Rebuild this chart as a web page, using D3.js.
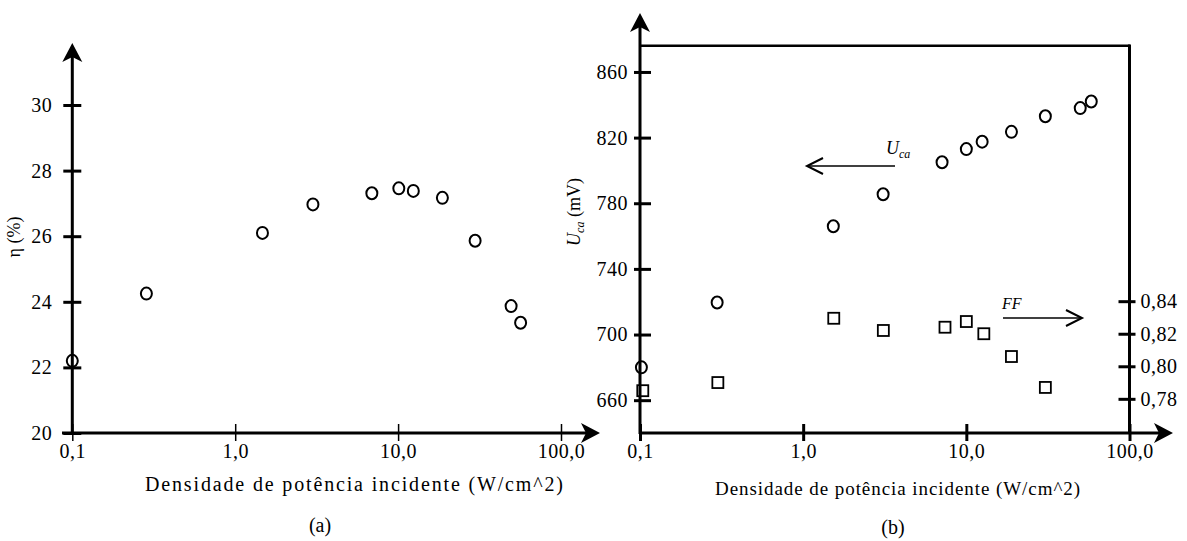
<!DOCTYPE html>
<html>
<head>
<meta charset="utf-8">
<script src="https://cdn.jsdelivr.net/npm/d3@7"></script>
<style>
  body { margin: 0; background: #fff; }
  svg text { font-family: "Liberation Serif", "Times New Roman", Times, serif !important; fill: #000; }
</style>
</head>
<body>
<script>
// ---------------------------//
//          DATA              //
// ---------------------------//

// (a) efficiency vs incident power density
const xEta = [0.1, 0.285, 1.47, 3.0, 6.9, 10.1, 12.4, 18.7, 29.7, 49.4, 56.5];
const eta  = [22.2, 24.25, 26.1, 26.97, 27.31, 27.46, 27.38, 27.17, 25.86, 23.87, 23.36];

// (b) open circuit voltage (mV) and fill factor
const xUca = [0.102, 0.297, 1.53, 3.09, 7.1, 10, 12.5, 18.9, 30.5, 49.9, 58.3];
const uca  = [680, 719.5, 766, 785.5, 805, 813, 817.5, 823.5, 833, 838, 842];
const xFF  = [0.104, 0.3, 1.54, 3.1, 7.4, 10, 12.8, 18.9, 30.5];
const ff   = [0.785, 0.79, 0.8295, 0.822, 0.824, 0.8275, 0.82, 0.806, 0.787];

// tick values
const xTicks   = [0.1, 1, 10, 100];
const etaTicks = [20, 22, 24, 26, 28, 30];
const ucaTicks = [660, 700, 740, 780, 820, 860];
const ffTicks  = [0.78, 0.80, 0.82, 0.84];

const xTitle = "Densidade de potência incidente (W/cm^2)";

// ---------------------------//
//       SET  CANVAS          //
// ---------------------------//

const W = 1187, H = 541;
const svg = d3.select("body").append("svg")
    .attr("width", W)
    .attr("height", H)
    .style("font-family", "'Liberation Serif', 'Times New Roman', serif");

const fmtX = d => d3.format(".1f")(d).replace(".", ",");
const fmtFF = d => d3.format(".2f")(d).replace(".", ",");

// filled arrow heads for the axes
function arrowUp(x, y) {
    svg.append("path")
        .attr("d", `M${x},${y} L${x - 10},${y + 19} L${x},${y + 14} L${x + 10},${y + 19} Z`)
        .attr("fill", "#000");
}
function arrowRight(x, y) {
    svg.append("path")
        .attr("d", `M${x},${y} L${x - 19},${y - 10} L${x - 14},${y} L${x - 19},${y + 10} Z`)
        .attr("fill", "#000");
}
// thin open arrows for the annotations
function thinArrow(x1, x2, y) {
    const dir = x2 > x1 ? 1 : -1;
    svg.append("line")
        .attr("x1", x1).attr("x2", x2).attr("y1", y).attr("y2", y)
        .attr("stroke", "#000").attr("stroke-width", 1.5);
    svg.append("path")
        .attr("d", `M${x2 - dir * 16},${y - 8} L${x2},${y} L${x2 - dir * 16},${y + 8}`)
        .attr("fill", "none").attr("stroke", "#000").attr("stroke-width", 2);
}

function styleTicks(g, x1, x2, sw) {
    g.attr("font-family", null);
    g.select(".domain").remove();
    g.selectAll(".tick line").attr("x1", x1).attr("x2", x2)
        .attr("stroke", "#000").attr("stroke-width", sw);
    g.selectAll("text")
        .style("font-size", "20px")
        .style("letter-spacing", "0.5px");
}

// ---------------------------//
//       CHART (a)            //
// ---------------------------//

const xa = d3.scaleLog().domain([0.1, 100]).range([72.3, 561]);
const ya = d3.scaleLinear().domain([20, 30]).range([433, 105]);

// axes lines
svg.append("line").attr("x1", 72.3).attr("x2", 72.3).attr("y1", 434).attr("y2", 50)
    .attr("stroke", "#000").attr("stroke-width", 3);
arrowUp(72.3, 43);
svg.append("line").attr("x1", 62).attr("x2", 592).attr("y1", 433).attr("y2", 433)
    .attr("stroke", "#000").attr("stroke-width", 3);
arrowRight(600, 433);

svg.append("g")
    .attr("transform", "translate(72.3,0)")
    .call(d3.axisLeft(ya).tickValues(etaTicks).tickSize(9).tickPadding(11))
    .call(g => styleTicks(g, -9, 9, 3));

svg.append("g")
    .attr("transform", "translate(0,433)")
    .call(d3.axisBottom(xa).tickValues(xTicks).tickFormat(fmtX).tickSize(8).tickPadding(3))
    .call(g => {
        g.attr("font-family", null);
        g.select(".domain").remove();
        g.selectAll(".tick line").attr("y1", -9).attr("y2", 8).attr("stroke", "#000").attr("stroke-width", 1.5);
        g.selectAll("text").style("font-size", "20px").style("letter-spacing", "0.5px");
    });

svg.selectAll(".etaDot")
    .data(xEta.map((d, i) => [d, eta[i]]))
    .enter()
    .append("ellipse")
    .attr("cx", d => xa(d[0]))
    .attr("cy", d => ya(d[1]))
    .attr("rx", 5.5).attr("ry", 6)
    .attr("fill", "none").attr("stroke", "#000").attr("stroke-width", 2);

svg.append("text")
    .attr("transform", "translate(20,237) rotate(-90)")
    .attr("text-anchor", "middle")
    .style("font-size", "18px")
    .text("η (%)");

svg.append("text")
    .attr("x", 145).attr("y", 491)
    .attr("textLength", 418).attr("lengthAdjust", "spacing")
    .style("font-size", "20px")
    .text(xTitle);

svg.append("text")
    .attr("x", 320).attr("y", 532)
    .attr("text-anchor", "middle")
    .style("font-size", "20px")
    .text("(a)");

// ---------------------------//
//       CHART (b)            //
// ---------------------------//

const xb  = d3.scaleLog().domain([0.1, 100]).range([640, 1129.5]);
const yb  = d3.scaleLinear().domain([640, 876]).range([433, 45.7]);
const yff = d3.scaleLinear().domain([0.759, 0.997]).range([433, 45.7]);

// frame
svg.append("line").attr("x1", 640).attr("x2", 640).attr("y1", 434).attr("y2", 20)
    .attr("stroke", "#000").attr("stroke-width", 3);
arrowUp(640, 13);
svg.append("line").attr("x1", 640).attr("x2", 1130).attr("y1", 45.7).attr("y2", 45.7)
    .attr("stroke", "#000").attr("stroke-width", 2.5);
svg.append("line").attr("x1", 1129.5).attr("x2", 1129.5).attr("y1", 44.5).attr("y2", 433)
    .attr("stroke", "#000").attr("stroke-width", 3);
svg.append("line").attr("x1", 640).attr("x2", 1165).attr("y1", 433).attr("y2", 433)
    .attr("stroke", "#000").attr("stroke-width", 3);
arrowRight(1173, 433);

svg.append("g")
    .attr("transform", "translate(640,0)")
    .call(d3.axisLeft(yb).tickValues(ucaTicks).tickSize(6).tickPadding(6))
    .call(g => styleTicks(g, -6, 11, 3));

svg.append("g")
    .attr("transform", "translate(1129.5,0)")
    .call(d3.axisRight(yff).tickValues(ffTicks).tickFormat(fmtFF).tickSize(4).tickPadding(7))
    .call(g => styleTicks(g, -11, 6, 3));

svg.append("g")
    .attr("transform", "translate(0,433)")
    .call(d3.axisBottom(xb).tickValues(xTicks).tickFormat(fmtX).tickSize(8).tickPadding(3))
    .call(g => {
        g.attr("font-family", null);
        g.select(".domain").remove();
        g.selectAll(".tick line").attr("y1", -9).attr("y2", 8).attr("stroke", "#000").attr("stroke-width", 3);
        g.selectAll("text").style("font-size", "20px").style("letter-spacing", "0.5px");
    });

// Uca circles
svg.selectAll(".ucaDot")
    .data(xUca.map((d, i) => [d, uca[i]]))
    .enter()
    .append("ellipse")
    .attr("cx", d => xb(d[0]))
    .attr("cy", d => yb(d[1]))
    .attr("rx", 5.5).attr("ry", 6)
    .attr("fill", "none").attr("stroke", "#000").attr("stroke-width", 2);

// FF squares
svg.selectAll(".ffDot")
    .data(xFF.map((d, i) => [d, ff[i]]))
    .enter()
    .append("rect")
    .attr("x", d => xb(d[0]) - 5.5)
    .attr("y", d => yff(d[1]) - 5.5)
    .attr("width", 11).attr("height", 11)
    .attr("fill", "none").attr("stroke", "#000").attr("stroke-width", 1.8);

// y label left
const ul = svg.append("text")
    .attr("transform", "translate(580,212) rotate(-90)")
    .attr("text-anchor", "middle")
    .style("font-size", "18px");
ul.append("tspan").style("font-style", "italic").text("U");
ul.append("tspan").style("font-style", "italic").style("font-size", "12px").attr("dy", 4).text("ca");
ul.append("tspan").attr("dy", -4).text(" (mV)");

// annotations
const ua = svg.append("text").attr("x", 886).attr("y", 154).style("font-size", "18px");
ua.append("tspan").style("font-style", "italic").text("U");
ua.append("tspan").style("font-style", "italic").style("font-size", "12px").attr("dy", 4).text("ca");
thinArrow(895, 807, 166);

svg.append("text")
    .attr("x", 1002).attr("y", 309)
    .style("font-size", "16px").style("font-style", "italic")
    .text("FF");
thinArrow(1003, 1082, 318);

svg.append("text")
    .attr("x", 715).attr("y", 495)
    .attr("textLength", 365).attr("lengthAdjust", "spacing")
    .style("font-size", "19px")
    .text(xTitle);

svg.append("text")
    .attr("x", 893).attr("y", 534)
    .attr("text-anchor", "middle")
    .style("font-size", "20px")
    .text("(b)");
</script>
</body>
</html>
